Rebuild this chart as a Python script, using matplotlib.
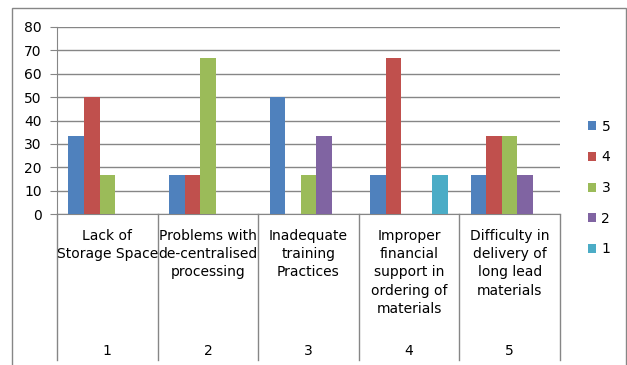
import numpy as np
import matplotlib.pyplot as plt
from matplotlib.lines import Line2D
from matplotlib.patches import Rectangle
import matplotlib.transforms as mtransforms

# Data: percentage of responses per rating (5..1) for each problem
problems = ["Lack of\nStorage Space",
            "Problems with\nde-centralised\nprocessing",
            "Inadequate\ntraining\nPractices",
            "Improper\nfinancial\nsupport in\nordering of\nmaterials",
            "Difficulty in\ndelivery of\nlong lead\nmaterials"]
group_numbers = ["1", "2", "3", "4", "5"]
ratings = ["5", "4", "3", "2", "1"]
rating_5 = [33.3, 16.7, 50.0, 16.7, 16.7]
rating_4 = [50.0, 16.7, 0.0, 66.7, 33.3]
rating_3 = [16.7, 66.7, 16.7, 0.0, 33.3]
rating_2 = [0.0, 0.0, 33.3, 0.0, 16.7]
rating_1 = [0.0, 0.0, 0.0, 16.7, 0.0]
series = [rating_5, rating_4, rating_3, rating_2, rating_1]
colors = ["#4F81BD", "#C0504D", "#9BBB59", "#8064A2", "#4BACC6"]

plt.rcParams['font.family'] = ['DejaVu Sans']
fs = 10

fig = plt.figure(figsize=(6.27, 3.65), dpi=100)
ax = fig.add_axes([57 / 627, 1 - 214 / 365, 503 / 627, 187 / 365])

x = np.arange(1, len(problems) + 1)
width = 0.155
for k, (vals, col, lab) in enumerate(zip(series, colors, ratings)):
    ax.bar(x + (k - 2) * width, vals, width, color=col, label=lab, zorder=3)

ax.set_xlim(0.5, 5.5)
ax.set_ylim(0, 80)
ax.set_yticks(range(0, 81, 10))
ax.yaxis.grid(True, color="#868686", linewidth=1, zorder=0)
ax.set_xticks([])
ax.tick_params(axis="y", length=5, color="#868686", labelsize=fs, pad=6)
for side in ["top", "right"]:
    ax.spines[side].set_visible(False)
ax.spines["left"].set_color("#868686")
ax.spines["bottom"].set_color("#868686")

# Two-level category axis below the plot
trans = mtransforms.blended_transform_factory(ax.transData, fig.transFigure)
y_bottom = 1 - 214 / 365
y_end = 1 - 360 / 365
for xd in np.arange(0.5, 6.0, 1.0):
    fig.add_artist(Line2D([xd, xd], [y_bottom, y_end], transform=trans,
                          color="#868686", linewidth=1))
for xi, name, num in zip(x, problems, group_numbers):
    fig.text(xi, 1 - 229 / 365, name, transform=trans, ha="center", va="top",
             fontsize=fs, linespacing=1.38)
    fig.text(xi, 1 - 351 / 365, num, transform=trans, ha="center",
             va="center", fontsize=fs)

# Chart border
fig.add_artist(Rectangle((12 / 627, -0.01), 614 / 627, 1 - 8 / 365 + 0.01,
                         transform=fig.transFigure, fill=False,
                         edgecolor="#868686", linewidth=1))

ax.legend(loc="center left", bbox_to_anchor=(582 / 627, 1 - 188 / 365),
          bbox_transform=fig.transFigure, frameon=False, fontsize=fs,
          handlelength=0.6, handleheight=0.6, handletextpad=0.4,
          labelspacing=1.2, borderaxespad=0)

fig.savefig("out.png", dpi=100)
